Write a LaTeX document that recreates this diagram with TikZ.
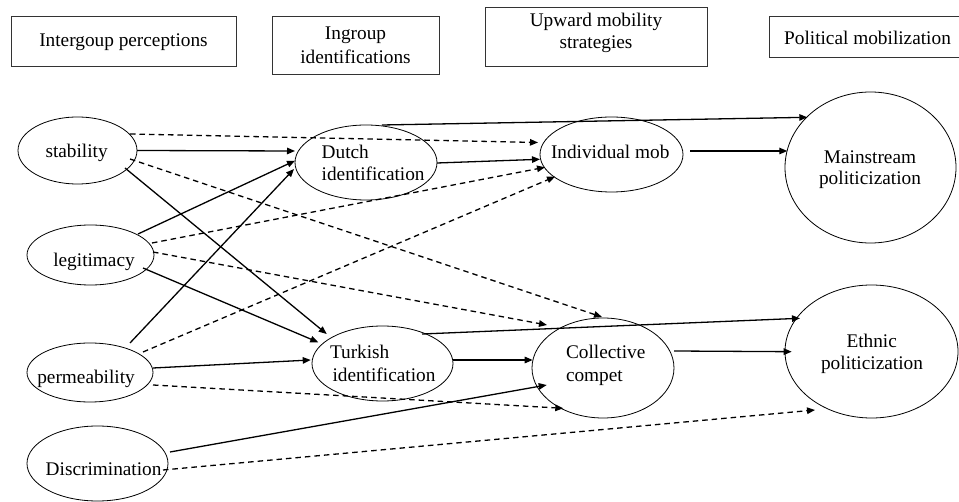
\documentclass[tikz,border=0pt]{standalone}
\usepackage{fontspec}
\setmainfont{Liberation Serif}
\usetikzlibrary{arrows.meta,calc,shapes.geometric}

\begin{document}
\begin{tikzpicture}[x=1pt,y=-1pt,
  txt/.style={font=\fontsize{19.3}{22.4}\selectfont, inner sep=0pt, outer sep=0pt},
  hbox/.style={draw=black!80, line width=1pt, rectangle, inner sep=0pt},
  var/.style={draw, ellipse, line width=0.8pt, inner sep=0pt},
  sol/.style={line width=1.3pt, -{Triangle[length=8pt,width=6.5pt]}},
  dsh/.style={sol, dash pattern=on 5.5pt off 4pt}]

\useasboundingbox (0,0) rectangle (959,502);
\clip (0,0) rectangle (959,502);

% column headers
\node[hbox, minimum width=225pt, minimum height=50pt] (boxPerc) at (123.5,42) {};
\node[txt, anchor=base] (perc) at (123.5,46.7) {Intergoup perceptions};
\node[hbox, minimum width=167pt, minimum height=58pt] (boxIdent) at (355.5,46) {};
\node[txt, anchor=base] (identA) at (355.5,40) {Ingroup};
\node[txt, anchor=base] (identB) at (355.5,63.5) {identifications};
\node[hbox, minimum width=222pt, minimum height=59pt] (boxMob) at (596,37.5) {};
\node[txt, anchor=base] (mobA) at (596,27) {Upward mobility};
\node[txt, anchor=base] (mobB) at (596,49) {strategies};
\node[hbox, minimum width=197pt, minimum height=41pt] (boxPol) at (867.5,37.5) {};
\node[txt, anchor=base] (pol) at (867.5,45) {Political mobilization};

% variables
\node[var, minimum width=119pt, minimum height=67pt] (stab) at (77.5,150.5) {};
\node[var, minimum width=127pt, minimum height=60pt] (legit) at (90.5,255) {};
\node[var, minimum width=126pt, minimum height=59pt] (perm) at (90,372.5) {};
\node[var, minimum width=141pt, minimum height=75pt] (disc) at (97.5,463.5) {};
\node[var, minimum width=142pt, minimum height=75pt] (dutch) at (366,162.5) {};
\node[var, minimum width=141pt, minimum height=75pt] (turk) at (382.5,363.5) {};
\node[var, minimum width=143pt, minimum height=75pt] (indiv) at (611.5,154.5) {};
\node[var, minimum width=142pt, minimum height=100pt] (coll) at (603,368) {};
\node[var, minimum width=171pt, minimum height=151pt] (main) at (870.5,167.5) {};
\node[var, minimum width=173pt, minimum height=133pt] (eth) at (871.5,351.5) {};

% variable labels
\node[txt, anchor=base west] (stabT) at (45.5,157.5) {stability};
\node[txt, anchor=base west] (legitT) at (53.3,266.5) {legitimacy};
\node[txt, anchor=base west] (permT) at (37.3,384) {permeability};
\node[txt, anchor=base west] (discT) at (45.7,475.5) {Discrimination};
\node[txt, anchor=base west] (dutchA) at (321.7,158.3) {Dutch};
\node[txt, anchor=base west] (dutchB) at (321.7,180.7) {identification};
\node[txt, anchor=base west] (turkA) at (330,359) {Turkish};
\node[txt, anchor=base west] (turkB) at (332.5,381.7) {identification};
\node[txt, anchor=base west] (indivT) at (551,158.3) {Individual mob};
\node[txt, anchor=base west] (collA) at (566,359) {Collective};
\node[txt, anchor=base west] (collB) at (566,381.7) {compet};
\node[txt, anchor=base] (mainA) at (870,163.3) {Mainstream};
\node[txt, anchor=base] (mainB) at (870,185) {politicization};
\node[txt, anchor=base] (ethA) at (871.7,347.3) {Ethnic};
\node[txt, anchor=base] (ethB) at (872,370) {politicization};

% paths from the perceptions
\draw[sol] ($(stab)+(59.5,0)$) -- ($(dutch)+(-71,-11.5)$);
\draw[dsh] ($(stab)+(52.5,-16.5)$) -- ($(indiv)+(-73.5,-12)$);
\draw[dsh] ($(stab)+(52.5,8.5)$) -- ($(coll)+(-1,-51)$);
\draw[sol] ($(stab)+(47.5,17.5)$) -- ($(turk)+(-55.8,-29.5)$);

\draw[sol] ($(legit)+(47.5,-21)$) -- ($(dutch)+(-71,-1.8)$);
\draw[dsh] ($(legit)+(61.5,-12)$) -- ($(indiv)+(-66.5,12.8)$);
\draw[dsh] ($(legit)+(62.5,-3)$) -- ($(coll)+(-56,-43)$);
\draw[sol] ($(legit)+(52.5,13)$) -- ($(turk)+(-64.2,-21.2)$);

\draw[sol] ($(perm)+(40,-29.5)$) -- ($(dutch)+(-72,6.5)$);
\draw[dsh] ($(perm)+(53,-20.5)$) -- ($(indiv)+(-56.5,22.2)$);
\draw[sol] ($(perm)+(63,-4.5)$) -- ($(turk)+(-71.8,-3.5)$);
\draw[dsh] ($(perm)+(63,12.5)$) -- ($(coll)+(-39.7,40.3)$);

\draw[sol] ($(disc)+(72.5,-11.5)$) -- ($(coll)+(-56.3,17)$);
\draw[dsh] ($(disc)+(65.5,6.5)$) -- ($(eth)+(-56.5,58.5)$);

% paths from the identifications and strategies
\draw[sol] ($(dutch)+(16,-37.5)$) -- ($(main)+(-63.2,-50.2)$);
\draw[sol] ($(dutch)+(71,0.5)$) -- ($(indiv)+(-71.5,4.8)$);
\draw[sol] ($(indiv)+(78.5,-3.5)$) -- ($(main)+(-83.2,-16.5)$);
\draw[sol] ($(turk)+(70.5,-3.5)$) -- ($(coll)+(-70.3,-8)$);
\draw[sol] ($(turk)+(39.5,-29.5)$) -- ($(eth)+(-71.5,-33.2)$);
\draw[sol] ($(coll)+(71,-17)$) -- ($(eth)+(-79.8,0.2)$);
\end{tikzpicture}
\end{document}
